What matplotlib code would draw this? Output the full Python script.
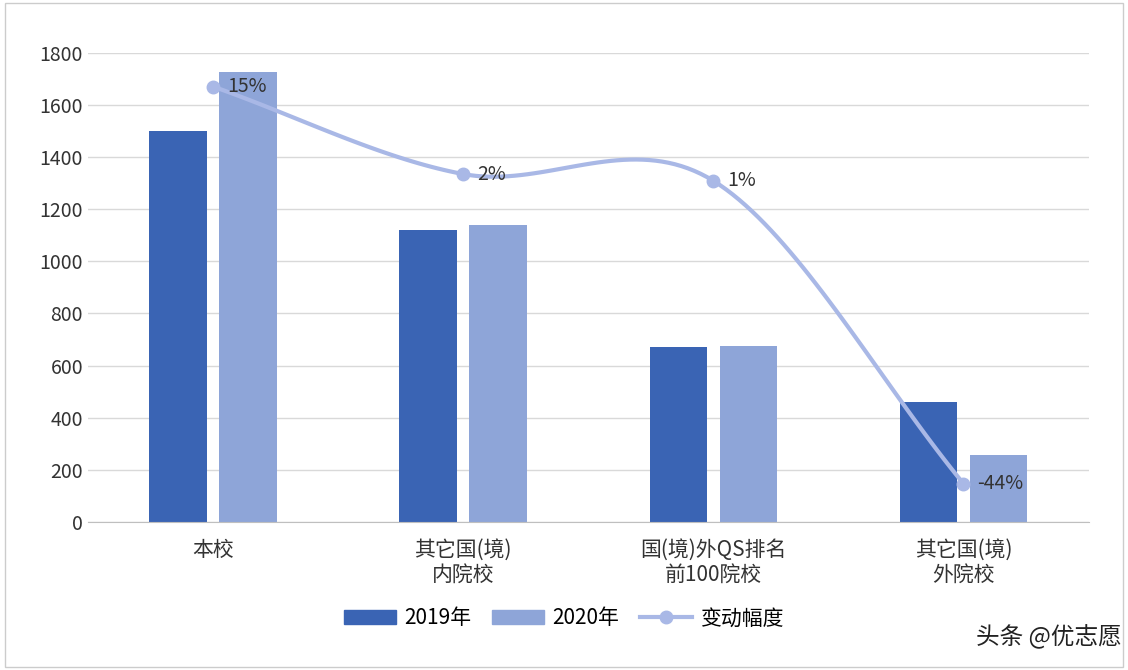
import matplotlib
matplotlib.use("Agg")
import matplotlib.pyplot as plt
import numpy as np
from matplotlib.lines import Line2D
from matplotlib.patches import Patch, Rectangle

plt.rcParams['font.family'] = ['Noto Sans CJK SC', 'DejaVu Sans']

categories = ["本校", "其它国(境)\n内院校", "国(境)外QS排名\n前100院校", "其它国(境)\n外院校"]
v2019 = [1500, 1120, 670, 460]
v2020 = [1725, 1140, 675, 255]
change = [15, 2, 1, -44]
change_labels = ["15%", "2%", "1%", "-44%"]

c19, c20, cl = "#3a64b4", "#8ea5d8", "#a9b8e6"

fig = plt.figure(figsize=(11.28, 6.70), dpi=100)
fig.patches.append(Rectangle((0.004, 0.004), 0.992, 0.992, transform=fig.transFigure,
                             fill=False, edgecolor="#cccccc", lw=1))
ax = fig.add_axes([0.078, 0.221, 0.887, 0.70])
x = np.arange(len(categories))
w = 0.23
ax.bar(x - 0.14, v2019, w, color=c19, zorder=2)
ax.bar(x + 0.14, v2020, w, color=c20, zorder=2)
ax.set_ylim(0, 1800)
ax.set_xlim(-0.5, 3.5)
ax.set_yticks(range(0, 1801, 200))
ax.grid(axis='y', color='#d9d9d9', lw=1, zorder=0)
for s in ax.spines.values():
    s.set_visible(False)
ax.spines['bottom'].set_visible(True)
ax.spines['bottom'].set_color('#bfbfbf')
ax.tick_params(axis='y', length=0, labelsize=14, colors='#333333')
ax.tick_params(axis='x', length=0, labelsize=15, colors='#333333', pad=12)
ax.set_xticks(x)
ax.set_xticklabels(categories, linespacing=1.2)

ax2 = ax.twinx()
ax2.set_ylim(-49.7, 20.0)
ax2.axis('off')
ax2.set_xlim(-0.5, 3.5)

# Catmull-Rom smoothing for the line display
px = np.array(x, float); py = np.array(change, float)
P = np.column_stack([px, py])
P = np.vstack([P[0] - (P[1] - P[0]), P, P[-1] + (P[-1] - P[-2])])
xs, ys = [], []
for i in range(1, len(P) - 2):
    p0, p1, p2, p3 = P[i-1], P[i], P[i+1], P[i+2]
    for t in np.linspace(0, 1, 40):
        pt = 0.5 * ((2*p1) + (-p0+p2)*t + (2*p0-5*p1+4*p2-p3)*t**2 + (-p0+3*p1-3*p2+p3)*t**3)
        xs.append(pt[0]); ys.append(pt[1])
ax2.plot(xs, ys, color=cl, lw=3, zorder=3)
ax2.plot(px, py, 'o', color=cl, ms=9, zorder=4)
for xi, yi, lb in zip(px, py, change_labels):
    ax2.annotate(lb, (xi, yi), xytext=(10, 0), textcoords='offset points',
                 va='center', ha='left', fontsize=14, color='#333333', zorder=5)

handles = [Patch(color=c19), Patch(color=c20),
           Line2D([0], [0], color=cl, lw=3, marker='o', ms=9)]
fig.legend(handles, ["2019年", "2020年", "变动幅度"], loc='center',
           bbox_to_anchor=(0.50, 0.077), ncol=3, frameon=False, fontsize=15,
           handlelength=2.5, columnspacing=1.0, handletextpad=0.4)
fig.text(0.93, 0.05, "头条 @优志愿", ha='center', va='center', fontsize=17, color='#222222')
fig.savefig("out.png", dpi=100)
